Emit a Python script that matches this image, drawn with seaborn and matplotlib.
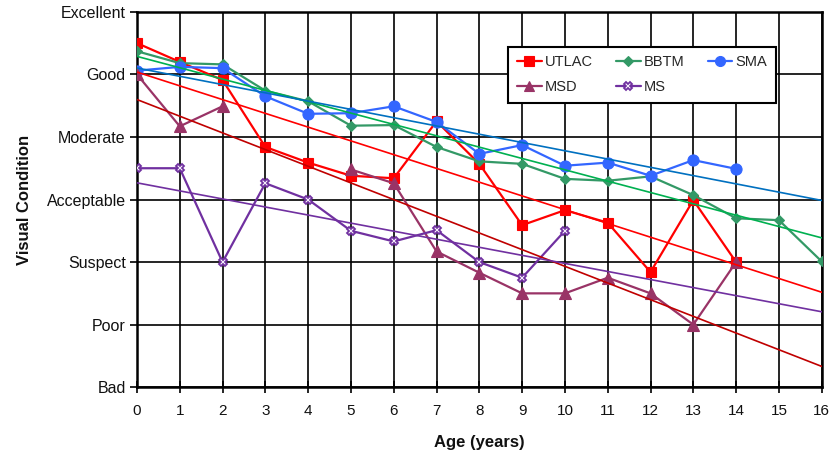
import numpy as np
import pandas as pd
import matplotlib
matplotlib.use("Agg")
import matplotlib.pyplot as plt
from matplotlib.lines import Line2D
import seaborn as sns

# ---- data -------------------------------------------------------------
age = np.arange(0, 17)
condition_labels = ["Bad", "Poor", "Suspect", "Acceptable", "Moderate", "Good", "Excellent"]
nan = np.nan

utlac = [5.50, 5.20, 4.91, 3.84, 3.59, 3.38, 3.34, 4.25, 3.57, 2.59, 2.83, 2.63, 1.84, 2.99, 2.00]
bbtm = [5.37, 5.18, 5.16, 4.74, 4.57, 4.18, 4.19, 3.84, 3.61, 3.57, 3.33, 3.30, 3.37, 3.07, 2.70, 2.67, 2.01]
sma = [5.06, 5.12, 5.10, 4.65, 4.37, 4.38, 4.49, 4.24, 3.73, 3.87, 3.54, 3.59, 3.38, 3.63, 3.49]
msd = [5.00, 4.17, 4.49, nan, nan, 3.48, 3.26, 2.17, 1.83, 1.50, 1.50, 1.75, 1.50, 1.00, 2.00]
ms = [3.50, 3.50, 2.00, 3.26, 3.00, 2.50, 2.33, 2.51, 2.00, 1.75, 2.50]

# number of leading observations used for each linear trend
trend_points = {"UTLAC": 15, "BBTM": 16, "SMA": 15, "MSD": 15, "MS": 11}

# ---- styles -----------------------------------------------------------
series = [
    ("UTLAC", utlac, dict(color="#FF0000", marker="s", ms=7.5, mfc="#FF0000", mec="#FF0000", mew=0.8), "#FF0000"),
    ("BBTM", bbtm, dict(color="#339966", marker="D", ms=5.5, mfc="#339966", mec="#339966", mew=0.8), "#00B050"),
    ("SMA", sma, dict(color="#3366FF", marker="o", ms=8, mfc="#3366FF", mec="#3366FF", mew=0.8), "#0070C0"),
    ("MSD", msd, dict(color="#993366", marker="^", ms=8, mfc="#993366", mec="#993366", mew=0.8), "#C00000"),
    ("MS", ms, dict(color="#7030A0", marker="X", ms=6, mfc="white", mec="#7030A0", mew=1.3), "#7030A0"),
]

sns.set_theme(style="white")
plt.rcParams["font.family"] = ["Liberation Sans", "DejaVu Sans"]

fig, ax = plt.subplots(figsize=(8.3, 4.55), dpi=100)
fig.subplots_adjust(left=0.165, right=0.990, top=0.974, bottom=0.149)
ax.set_xlim(0, 16)
ax.set_ylim(0, 6)

# observed series
handles = {}
for name, vals, st, _ in series:
    df = pd.DataFrame({"age": age[:len(vals)], "cond": vals})
    df["seg"] = df["cond"].isna().cumsum()
    df = df.dropna()
    sns.lineplot(data=df, x="age", y="cond", units="seg", estimator=None, sort=False,
                 color=st["color"], marker=st["marker"], markersize=st["ms"],
                 markerfacecolor=st["mfc"], markeredgecolor=st["mec"],
                 markeredgewidth=st["mew"], linewidth=1.6, legend=False, ax=ax, zorder=3)
    handles[name] = Line2D([], [], color=st["color"], marker=st["marker"], markersize=st["ms"] * 0.9,
                           markerfacecolor=st["mfc"], markeredgecolor=st["mec"],
                           markeredgewidth=st["mew"], linewidth=1.6)

# linear trends, extended across the full age axis
for name, vals, st, tcolor in series:
    n = trend_points[name]
    sns.regplot(x=age[:n], y=np.array(vals[:n], dtype=float), ci=None, scatter=False,
                truncate=False, color=tcolor, line_kws=dict(linewidth=1.2, zorder=4), ax=ax)

ax.set_xlim(0, 16)
ax.set_ylim(0, 6)

# ---- axes, grid, ticks -------------------------------------------------
ax.set_xticks(age)
ax.set_yticks(range(len(condition_labels)))
ax.set_yticklabels(condition_labels)
ax.set_axisbelow(True)
ax.grid(True, color="black", linewidth=1.2)
for sp in ax.spines.values():
    sp.set_color("black")
    sp.set_linewidth(1.8)
ax.tick_params(axis="y", direction="out", length=5, width=1.2, color="black",
               labelsize=11.5, labelcolor="#111111", pad=3, left=True)
ax.tick_params(axis="x", direction="inout", length=8, width=1.2, color="black",
               labelsize=11, labelcolor="#111111", pad=8, bottom=True)

ax.set_xlabel("Age (years)", fontsize=12, fontweight="bold", color="#111111")
ax.set_ylabel("Visual Condition", fontsize=12, fontweight="bold", color="#111111")
ax.xaxis.set_label_coords(0.5, -0.128)
ax.yaxis.set_label_coords(-0.153, 0.5)

# legend laid out row by row
order = ["UTLAC", "MSD", "BBTM", "MS", "SMA"]
leg = ax.legend([handles[k] for k in order], order, ncol=3, loc="upper left",
                bbox_to_anchor=(0.542, 0.907), frameon=True, fancybox=False,
                framealpha=1, edgecolor="black", fontsize=10.5, handlelength=1.7,
                handletextpad=0.2, columnspacing=1.6, labelspacing=0.75,
                borderpad=0.6, borderaxespad=0)
leg.get_frame().set_linewidth(1.5)
leg.set_zorder(6)

fig.savefig("out.png", dpi=100)
